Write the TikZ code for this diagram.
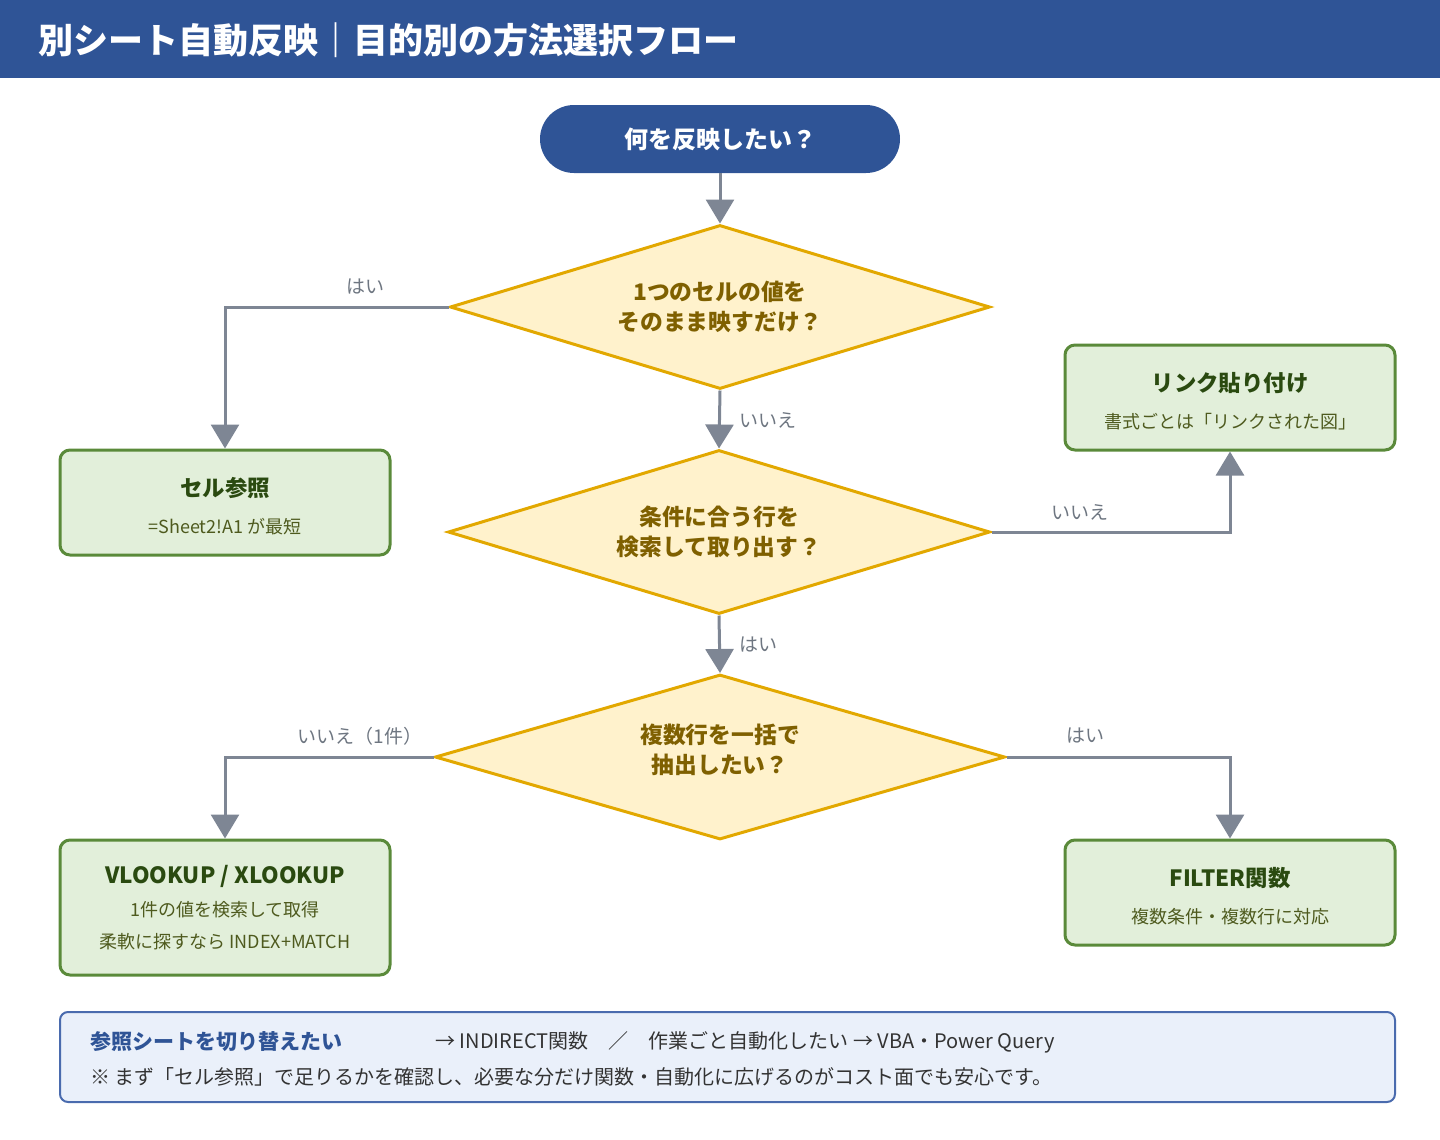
\documentclass[tikz,border=0pt]{standalone}
\usepackage{fontspec}
\setmainfont{Noto Sans CJK JP}
\usetikzlibrary{arrows.meta,shapes.geometric}
\definecolor{headblue}{HTML}{2F5496}
\definecolor{linegray}{HTML}{7E8694}
\definecolor{labelgray}{HTML}{6E7681}
\definecolor{gold}{HTML}{E2A800}
\definecolor{lightgold}{HTML}{FFF2CC}
\definecolor{qbrown}{HTML}{7F6000}
\definecolor{leafgreen}{HTML}{5A8A3A}
\definecolor{palegreen}{HTML}{E2EFDA}
\definecolor{deepgreen}{HTML}{2A4A10}
\definecolor{olivetext}{HTML}{4E5A1E}
\definecolor{notefill}{HTML}{EAF0FA}
\definecolor{noteedge}{HTML}{4A6BAE}
\definecolor{notetext}{HTML}{333333}
\newcommand{\boxhead}[1]{\textcolor{deepgreen}{\fontsize{11.2pt}{13pt}\selectfont\bfseries #1}}

\begin{document}
\begin{tikzpicture}[x=0.5pt,y=-0.5pt,
  arr/.style={draw=linegray, line width=1.5pt, -{Triangle[width=14pt,length=12pt]}},
  decision/.style={diamond, draw=gold, fill=lightgold, line width=1.5pt, aspect=3.3,
    inner sep=0pt, minimum width=270pt, minimum height=82pt, align=center, text=qbrown,
    font=\fontsize{11.4pt}{14.8pt}\selectfont\bfseries},
  result/.style={draw=leafgreen, fill=palegreen, line width=1.5pt, rounded corners=5pt,
    minimum width=165pt, minimum height=52.5pt, align=center, text=olivetext,
    font=\fontsize{9pt}{11pt}\selectfont},
  yesno/.style={text=labelgray, font=\fontsize{9.5pt}{11pt}\selectfont}]
\useasboundingbox (0,0) rectangle (1440,1140);
% header
\fill[headblue] (0,0) rectangle (1440,78);
\node[anchor=west, text=white, inner sep=0pt, font=\fontsize{17.5pt}{20pt}\selectfont\bfseries] at (38,40) (title) {別シート自動反映｜目的別の方法選択フロー};

\node at (720,139) (start) [fill=headblue, rounded corners=17pt, minimum width=180pt, minimum height=34pt, text=white, font=\fontsize{12pt}{14pt}\selectfont\bfseries] {何を反映したい？};
\node at (720,307) (q1) [decision] {1つのセルの値を\\そのまま映すだけ？};
\node at (719,532) (q2) [decision, minimum width=271pt] {条件に合う行を\\検索して取り出す？};
\node at (720,757) (q3) [decision, minimum width=285pt, minimum height=82.5pt] {複数行を一括で\\抽出したい？\rule[-8.5pt]{0pt}{0pt}};

\node at (225,502.5) (cellref) [result] {\rule{0pt}{13pt}\boxhead{セル参照}\\[7.5pt]=Sheet2!A1 が最短};
\node at (1230,397.5) (link) [result] {\rule{0pt}{13pt}\boxhead{リンク貼り付け}\\[7.5pt]書式ごとは「リンクされた図」};
\node at (225,907.5) (lookup) [result, minimum height=67.5pt] {\boxhead{VLOOKUP / XLOOKUP}\\[5.5pt]1件の値を検索して取得\\[5pt]柔軟に探すなら INDEX+MATCH};
\node at (1230,892.5) (filter) [result] {\rule{0pt}{13pt}\boxhead{FILTER関数}\\[7.5pt]複数条件・複数行に対応};

\draw[arr] (start) -- (q1);
\draw[arr] (q1.west) -| (cellref.north);
\draw[arr] (q1.south) -- (q2.north);
\draw[arr] (q2.east) -| (link.south);
\draw[arr] (q2.south) -- (q3.north);
\draw[arr] (q3.west) -| (lookup.north);
\draw[arr] (q3.east) -| (filter.north);

\node at (365,287) (l1) [yesno] {はい};
\node at (768,420) (l2) [yesno] {いいえ};
\node at (1080,512) (l3) [yesno] {いいえ};
\node at (758,645) (l4) [yesno] {はい};
\node at (360,736) (l5) [yesno] {いいえ（1件）};
\node at (1085,736) (l6) [yesno] {はい};

% note
\node at (727.5,1057) (note) [draw=noteedge, fill=notefill, line width=1pt, rounded corners=4pt, minimum width=667.5pt, minimum height=45pt] {};
\node at (90,1042) (tip1) [anchor=west, inner sep=0pt, text=headblue, font=\fontsize{10.5pt}{12pt}\selectfont\bfseries] {参照シートを切り替えたい};
\node at (435,1042) (tip2) [anchor=west, inner sep=0pt, text=notetext, font=\fontsize{10pt}{12pt}\selectfont] {→ INDIRECT関数　／　作業ごと自動化したい → VBA・Power Query};
\node at (90,1077) (tip3) [anchor=west, inner sep=0pt, text=notetext, font=\fontsize{10pt}{12pt}\selectfont] {※ まず「セル参照」で足りるかを確認し、必要な分だけ関数・自動化に広げるのがコスト面でも安心です。};
\end{tikzpicture}
\end{document}
